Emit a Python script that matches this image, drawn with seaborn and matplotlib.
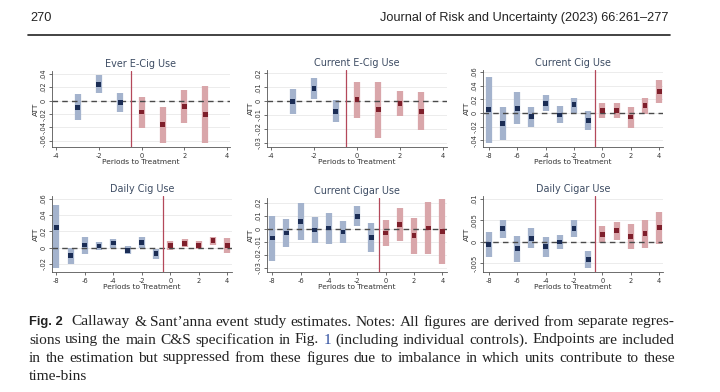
import matplotlib
matplotlib.use("Agg")
import matplotlib.pyplot as plt
import seaborn as sns
import pandas as pd

# ---- data ----
# Ever E-Cig Use
ever_ecig_period = [-3, -2, -1, 0, 1, 2, 3]
ever_ecig_att = [-0.010, 0.0245, -0.0025, -0.017, -0.0355, -0.009, -0.0205]
ever_ecig_lo = [-0.029, 0.011, -0.0175, -0.0405, -0.0625, -0.034, -0.0625]
ever_ecig_hi = [0.0095, 0.0385, 0.012, 0.0055, -0.009, 0.016, 0.021]

# Current E-Cig Use
cur_ecig_period = [-3, -2, -1, 0, 1, 2, 3]
cur_ecig_att = [-0.0005, 0.009, -0.0072, 0.0012, -0.006, -0.0017, -0.0072]
cur_ecig_lo = [-0.009, 0.0012, -0.015, -0.0125, -0.0263, -0.011, -0.021]
cur_ecig_hi = [0.0085, 0.017, 0.0007, 0.014, 0.014, 0.0075, 0.0065]

# Current Cig Use
cur_cig_period = [-8, -7, -6, -5, -4, -3, -2, -1, 0, 1, 2, 3, 4]
cur_cig_att = [0.0045, -0.0155, 0.007, -0.0055, 0.0135, -0.003, 0.012,
               -0.0115, 0.003, 0.003, -0.006, 0.0105, 0.031]
cur_cig_lo = [-0.044, -0.040, -0.0165, -0.0205, 0.003, -0.0155, 0.0,
              -0.0255, -0.008, -0.008, -0.0215, -0.001, 0.0145]
cur_cig_hi = [0.0527, 0.009, 0.030, 0.008, 0.027, 0.0095, 0.0215,
              0.003, 0.014, 0.014, 0.0085, 0.0215, 0.048]

# Daily Cig Use
daily_cig_period = [-8, -7, -6, -5, -4, -3, -2, -1, 0, 1, 2, 3, 4]
daily_cig_att = [0.0246, -0.0094, 0.0033, 0.002, 0.0057, -0.0033, 0.0062,
                 -0.0074, 0.0029, 0.0053, 0.0029, 0.0086, 0.0025]
daily_cig_lo = [-0.025, -0.0197, -0.0074, -0.0025, 0.0, -0.0082, -0.0004,
                -0.0135, -0.0025, 0.0004, -0.002, 0.0037, -0.0066]
daily_cig_hi = [0.052, 0.0, 0.013, 0.007, 0.011, 0.002, 0.013,
                -0.002, 0.0078, 0.0102, 0.0078, 0.0135, 0.0119]

# Current Cigar Use
cur_cigar_period = [-8, -7, -6, -5, -4, -3, -2, -1, 0, 1, 2, 3, 4]
cur_cigar_att = [-0.0072, -0.0033, 0.0056, -0.001, 0.0005, -0.0026, 0.0095,
                 -0.0067, -0.0033, 0.0031, -0.0054, 0.0005, -0.002]
cur_cigar_lo = [-0.0246, -0.0144, -0.0087, -0.011, -0.0118, -0.011, 0.0018,
                -0.0182, -0.0136, -0.0097, -0.0192, -0.0192, -0.0272]
cur_cigar_hi = [0.0095, 0.0077, 0.0197, 0.0087, 0.0123, 0.0056, 0.0177,
                0.0044, 0.0069, 0.0159, 0.0079, 0.0205, 0.0228]

# Daily Cigar Use
daily_cigar_period = [-8, -7, -6, -5, -4, -3, -2, -1, 0, 1, 2, 3, 4]
daily_cigar_att = [-0.0006, 0.0032, -0.0016, 0.0008, -0.001, 0.0, 0.0032,
                   -0.004, 0.0018, 0.0026, 0.0012, 0.0019, 0.0033]
daily_cigar_lo = [-0.0036, 0.001, -0.0047, -0.0015, -0.0034, -0.0016, 0.0012,
                  -0.0061, -0.0003, 0.0005, -0.0016, -0.0014, -0.0004]
daily_cigar_hi = [0.0022, 0.0052, 0.0015, 0.0032, 0.0012, 0.0016, 0.005,
                  -0.0021, 0.0038, 0.0047, 0.0042, 0.0052, 0.0069]

titles = ["Ever E-Cig Use", "Current E-Cig Use", "Current Cig Use",
          "Daily Cig Use", "Current Cigar Use", "Daily Cigar Use"]

short_xticks = [-4, -2, 0, 2, 4]
long_xticks = [-8, -6, -4, -2, 0, 2, 4]

ever_ecig_yticks = [-0.06, -0.04, -0.02, 0, 0.02, 0.04]
ever_ecig_ylabels = ["-.06", "-.04", "-.02", "0", ".02", ".04"]
cur_ecig_yticks = [-0.03, -0.02, -0.01, 0, 0.01, 0.02]
cur_ecig_ylabels = ["-.03", "-.02", "-.01", "0", ".01", ".02"]
cur_cig_yticks = [-0.04, -0.02, 0, 0.02, 0.04, 0.06]
cur_cig_ylabels = ["-.04", "-.02", "0", ".02", ".04", ".06"]
daily_cig_yticks = [-0.02, 0, 0.02, 0.04, 0.06]
daily_cig_ylabels = ["-.02", "0", ".02", ".04", ".06"]
cur_cigar_yticks = [-0.03, -0.02, -0.01, 0, 0.01, 0.02]
cur_cigar_ylabels = ["-.03", "-.02", "-.01", "0", ".01", ".02"]
daily_cigar_yticks = [-0.005, 0, 0.005, 0.01]
daily_cigar_ylabels = ["-.005", "0", ".005", ".01"]

header_page = "270"
header_journal = "Journal of Risk and Uncertainty (2023) 66:261\u2013277"
caption_label = "Fig. 2"
caption_lines = [
    "Callaway & Sant\u2019anna event study estimates. Notes: All figures are derived from separate regres-",
    "sions using the main C&S specification in Fig. 1 (including individual controls). Endpoints are included",
    "in the estimation but suppressed from these figures due to imbalance in which units contribute to these",
    "time-bins",
]

panels = [
    (ever_ecig_period, ever_ecig_att, ever_ecig_lo, ever_ecig_hi,
     short_xticks, ever_ecig_yticks, ever_ecig_ylabels),
    (cur_ecig_period, cur_ecig_att, cur_ecig_lo, cur_ecig_hi,
     short_xticks, cur_ecig_yticks, cur_ecig_ylabels),
    (cur_cig_period, cur_cig_att, cur_cig_lo, cur_cig_hi,
     long_xticks, cur_cig_yticks, cur_cig_ylabels),
    (daily_cig_period, daily_cig_att, daily_cig_lo, daily_cig_hi,
     long_xticks, daily_cig_yticks, daily_cig_ylabels),
    (cur_cigar_period, cur_cigar_att, cur_cigar_lo, cur_cigar_hi,
     long_xticks, cur_cigar_yticks, cur_cigar_ylabels),
    (daily_cigar_period, daily_cigar_att, daily_cigar_lo, daily_cigar_hi,
     long_xticks, daily_cigar_yticks, daily_cigar_ylabels),
]

# axes boxes in pixels (left, right, top, bottom) and axis limits
boxes = [(52, 230, 71, 147), (267, 447, 70, 147), (483, 663, 70, 147),
         (52, 232, 196, 272), (267, 447, 198, 272), (483, 663, 196, 272)]
xlims = [(-4.2, 4.15), (-4.19, 4.19), (-8.4, 4.26),
         (-8.3, 4.33), (-8.36, 4.32), (-8.4, 4.26)]
ylims = [(-0.069, 0.044), (-0.0331, 0.0225), (-0.050, 0.063),
         (-0.030, 0.0636), (-0.0333, 0.0236), (-0.007, 0.0107)]

W, H = 720, 392
sns.set_theme(style="white")
plt.rcParams["font.family"] = ["DejaVu Sans"]

fig = plt.figure(figsize=(W / 100, H / 100), dpi=100)
fig.patch.set_facecolor("white")

pre_ci, post_ci = "#a4b3cd", "#d9a6aa"
pre_pt, post_pt = "#1b2d55", "#7e1f2b"

for i, (per, att, lo, hi, xt, yt, yl) in enumerate(panels):
    l, r, t, b = boxes[i]
    ax = fig.add_axes([l / W, 1 - b / H, (r - l) / W, (b - t) / H])
    df = pd.DataFrame({"period": per, "att": att, "lo": lo, "hi": hi})
    df["phase"] = ["pre" if p < 0 else "post" for p in per]
    ax.set_ylim(*ylims[i])
    ax.set_xlim(*xlims[i])
    for y in yt:
        ax.axhline(y, color="#e4e4e4", lw=0.5, zorder=0)
    pre = df[df.phase == "pre"]
    post = df[df.phase == "post"]
    ax.vlines(pre.period, pre.lo, pre.hi, color=pre_ci, lw=4.5, zorder=1,
              capstyle="butt")
    ax.vlines(post.period, post.lo, post.hi, color=post_ci, lw=4.5, zorder=1,
              capstyle="butt")
    ax.axhline(0, color="#4a4a4a", lw=1.0, dashes=(4, 3), zorder=2)
    ax.axvline(-0.5, color="#b4485a", lw=0.9, zorder=2)
    sns.scatterplot(data=df, x="period", y="att", hue="phase",
                    palette={"pre": pre_pt, "post": post_pt}, s=12,
                    marker="s", edgecolor="none", legend=False, ax=ax, zorder=3)
    ax.set_xticks(xt)
    ax.set_xticklabels([str(v) for v in xt])
    ax.set_yticks(yt)
    ax.set_yticklabels(yl, rotation=90, va="center")
    ax.tick_params(axis="both", labelsize=4.8, length=2.5, width=0.5,
                   pad=1.5, colors="#333333", bottom=True, left=True)
    for s in ["top", "right"]:
        ax.spines[s].set_visible(False)
    for s in ["left", "bottom"]:
        ax.spines[s].set_color("#555555")
        ax.spines[s].set_linewidth(0.6)
    ax.set_xlabel("Periods to Treatment", fontsize=5.4, color="#333333",
                  labelpad=0)
    ax.set_ylabel("ATT", fontsize=5.4, color="#333333", labelpad=1)
    ax.set_title(titles[i], fontsize=6.9, color="#3d4c63", pad=3)

renderer = fig.canvas.get_renderer()


def text_width(s, **kw):
    t = fig.text(0, 0, s, **kw)
    w = t.get_window_extent(renderer).width
    t.remove()
    return w


# page header, sized so the journal line spans the same width as the scan
sans = ["Liberation Sans", "DejaVu Sans"]
hsize = 10 * 291 / text_width(header_journal, family=sans, fontsize=10)
fig.text(30 / W, 1 - 18 / H, header_page, family=sans, fontsize=hsize,
         ha="left", va="center", color="#222222")
fig.text(669 / W, 1 - 18 / H, header_journal, family=sans, fontsize=hsize,
         ha="right", va="center", color="#222222")
fig.add_artist(plt.Line2D([28 / W, 670 / W], [1 - 35 / H, 1 - 35 / H],
                          color="#222222", lw=1.2))

# caption, fitted to the text block and justified by hand
serif_fam = ["Liberation Serif", "DejaVu Serif"]
x0, x1 = 29, 675
label_w = 10 * 34 / text_width(caption_label, family=sans, fontsize=10,
                               weight="bold")
nat = max(text_width(s, family=serif_fam, fontsize=10) for s in caption_lines[1:3])
csize = 10 * (x1 - x0 - 4) / nat
serif = dict(family=serif_fam, fontsize=csize, color="#222222")
bold = dict(family=sans, fontsize=label_w, weight="bold", color="#222222")
ys = [322, 340, 358, 376]
for k, line in enumerate(caption_lines):
    words = [(w, serif) for w in line.split(" ")]
    if k == 0:
        words = [(caption_label, bold)] + words
    objs = []
    for w, style in words:
        kw = dict(style)
        if k == 1 and w == "1":
            kw["color"] = "#2f4fa0"
        objs.append(fig.text(0, 1 - ys[k] / H, w, va="center", ha="left", **kw))
    widths = [o.get_window_extent(renderer).width for o in objs]
    extra = 5 if k == 0 else 0
    if k < len(caption_lines) - 1:
        gap = (x1 - x0 - extra - sum(widths)) / (len(objs) - 1)
    else:
        gap = 3.5
    x = x0
    for j, o in enumerate(objs):
        o.set_x(x / W)
        x += widths[j] + gap + (extra if (k == 0 and j == 0) else 0)

fig.savefig("out.png", dpi=100, facecolor="white")
